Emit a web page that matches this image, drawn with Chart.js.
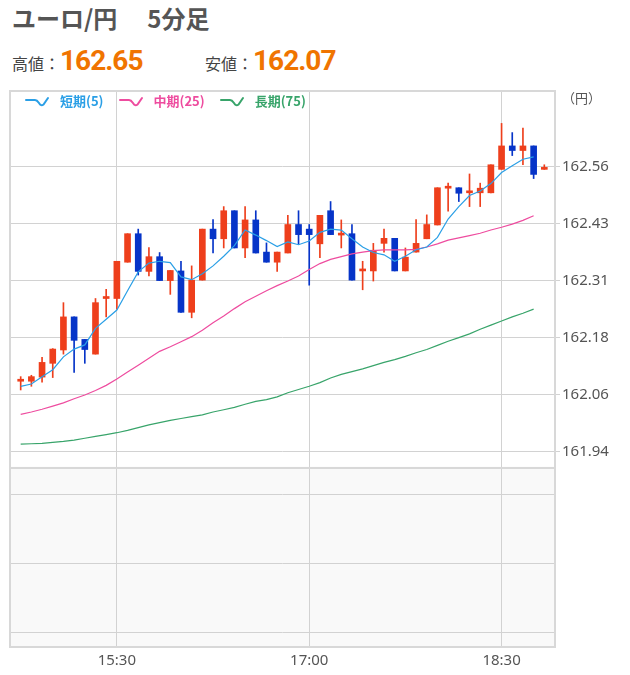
<!DOCTYPE html>
<html lang="ja">
<head>
<meta charset="utf-8">
<title>ユーロ/円 5分足</title>
<script src="https://cdn.jsdelivr.net/npm/chart.js@4.4.1/dist/chart.umd.min.js"></script>
<style>
    html, body { margin: 0; padding: 0; background: #fff; }
    body {
        width: 630px; height: 675px; position: relative; overflow: hidden;
        font-family: "Noto Sans CJK JP", "Noto Sans", sans-serif;
    }
    #title {
        position: absolute; left: 12px; top: 3px;
        font-size: 24px; font-weight: bold; color: #555;
        line-height: 30px; white-space: nowrap;
    }
    #title .sub { margin-left: 30px; }
    .price {
        position: absolute; top: 44px;
        display: flex; align-items: baseline; white-space: nowrap;
    }
    .price .lbl { font-size: 16px; color: #444; }
    .price .val {
        font-family: Roboto, "Noto Sans", sans-serif; font-weight: bold;
        font-size: 28px; letter-spacing: -1px; color: #f07400;
    }
    #chartBox { position: absolute; left: 0; top: 80px; width: 630px; height: 595px; }
    #legend {
        position: absolute; left: 25px; top: 91px;
        display: flex; align-items: center;
        font-size: 13px; font-weight: bold;
    }
    #legend .item { display: flex; align-items: center; margin-right: 15px; }
    #legend svg { margin-right: 8px; }
    #unit { position: absolute; left: 562px; top: 88px; font-size: 13px; color: #555; }
</style>
</head>
<body>
<div id="title">ユーロ/円<span class="sub">5分足</span></div>
<div class="price" style="left:12px"><span class="lbl">高値：</span><span class="val">162.65</span></div>
<div class="price" style="left:205px"><span class="lbl">安値：</span><span class="val">162.07</span></div>
<div id="chartBox"><canvas id="fxChart" width="630" height="595"></canvas></div>
<div id="legend"></div>
<div id="unit">（円）</div>

<script>
// 5分足の時刻
const times = [
    '14:45', '14:50', '14:55', '15:00', '15:05', '15:10', '15:15', '15:20', '15:25', '15:30',
    '15:35', '15:40', '15:45', '15:50', '15:55', '16:00', '16:05', '16:10', '16:15', '16:20',
    '16:25', '16:30', '16:35', '16:40', '16:45', '16:50', '16:55', '17:00', '17:05', '17:10',
    '17:15', '17:20', '17:25', '17:30', '17:35', '17:40', '17:45', '17:50', '17:55', '18:00',
    '18:05', '18:10', '18:15', '18:20', '18:25', '18:30', '18:35', '18:40', '18:45', '18:50'
];

// 四本値
const opens = [
    162.089, 162.089, 162.098, 162.128, 162.157, 162.229, 162.180, 162.148, 162.269, 162.269,
    162.348, 162.410, 162.328, 162.360, 162.308, 162.329, 162.239, 162.309, 162.420, 162.399,
    162.460, 162.379, 162.440, 162.370, 162.348, 162.368, 162.430, 162.420, 162.388, 162.460,
    162.407, 162.410, 162.329, 162.329, 162.389, 162.400, 162.329, 162.370, 162.399, 162.429,
    162.509, 162.510, 162.499, 162.499, 162.499, 162.550, 162.601, 162.591, 162.601, 162.550
];
const highs = [
    162.099, 162.102, 162.141, 162.160, 162.260, 162.229, 162.180, 162.269, 162.289, 162.350,
    162.410, 162.420, 162.380, 162.369, 162.330, 162.350, 162.340, 162.420, 162.441, 162.469,
    162.460, 162.469, 162.460, 162.390, 162.370, 162.450, 162.460, 162.430, 162.450, 162.480,
    162.440, 162.430, 162.350, 162.389, 162.420, 162.400, 162.379, 162.441, 162.451, 162.510,
    162.520, 162.510, 162.540, 162.520, 162.560, 162.650, 162.630, 162.640, 162.601, 162.560
];
const lows = [
    162.070, 162.078, 162.087, 162.097, 162.148, 162.108, 162.128, 162.148, 162.229, 162.246,
    162.348, 162.320, 162.318, 162.308, 162.278, 162.239, 162.227, 162.309, 162.368, 162.379,
    162.379, 162.358, 162.368, 162.348, 162.328, 162.368, 162.387, 162.298, 162.358, 162.408,
    162.379, 162.309, 162.288, 162.307, 162.370, 162.329, 162.329, 162.370, 162.399, 162.429,
    162.459, 162.480, 162.469, 162.469, 162.499, 162.550, 162.580, 162.560, 162.530, 162.550
];
const closes = [
    162.089, 162.099, 162.130, 162.159, 162.229, 162.178, 162.158, 162.260, 162.269, 162.350,
    162.410, 162.328, 162.360, 162.308, 162.330, 162.239, 162.309, 162.420, 162.399, 162.460,
    162.379, 162.440, 162.368, 162.348, 162.370, 162.430, 162.408, 162.408, 162.450, 162.408,
    162.411, 162.309, 162.329, 162.374, 162.400, 162.329, 162.359, 162.389, 162.430, 162.510,
    162.509, 162.498, 162.499, 162.509, 162.560, 162.601, 162.591, 162.601, 162.539, 162.550
];

// 移動平均線 (最後の足は未描画)
const ma5 = [
    162.078, 162.083, 162.099, 162.114, 162.142, 162.159, 162.168, 162.204, 162.224, 162.244,
    162.286, 162.327, 162.346, 162.350, 162.347, 162.316, 162.310, 162.323, 162.340, 162.361,
    162.384, 162.418, 162.407, 162.395, 162.382, 162.392, 162.386, 162.394, 162.413, 162.420,
    162.418, 162.399, 162.381, 162.369, 162.364, 162.350, 162.361, 162.375, 162.381, 162.402,
    162.442, 162.469, 162.493, 162.503, 162.519, 162.543, 162.558, 162.572, 162.577
];
const ma25 = [
    162.017, 162.022, 162.028, 162.035, 162.042, 162.051, 162.059, 162.069, 162.080, 162.094,
    162.109, 162.124, 162.139, 162.154, 162.164, 162.175, 162.186, 162.200, 162.216, 162.231,
    162.247, 162.262, 162.274, 162.286, 162.297, 162.307, 162.318, 162.332, 162.345, 162.354,
    162.360, 162.366, 162.370, 162.373, 162.375, 162.375, 162.375, 162.376, 162.381, 162.388,
    162.396, 162.401, 162.406, 162.411, 162.418, 162.424, 162.431, 162.439, 162.449
];
const ma75 = [
    161.952, 161.953, 161.954, 161.956, 161.958, 161.961, 161.965, 161.969, 161.973, 161.977,
    161.982, 161.988, 161.994, 161.999, 162.004, 162.008, 162.012, 162.016, 162.022, 162.027,
    162.032, 162.039, 162.045, 162.049, 162.055, 162.064, 162.071, 162.078, 162.086, 162.096,
    162.104, 162.110, 162.116, 162.123, 162.130, 162.136, 162.143, 162.151, 162.158, 162.167,
    162.176, 162.184, 162.192, 162.202, 162.211, 162.220, 162.229, 162.237, 162.246
];

// 目盛り
const xTickLabels = ['15:30', '17:00', '18:30'];
const yTickValues = [161.936, 162.060, 162.184, 162.308, 162.432, 162.556];

const upColor = '#ee3f1c';
const downColor = '#0634c8';

document.addEventListener('DOMContentLoaded', function() {
    initChart();
});

function initChart() {
    const candleColors = opens.map((o, i) => closes[i] >= o ? upColor : downColor);
    const wickData = times.map((t, i) => ({ x: i, y: [lows[i], highs[i]] }));
    const bodyData = times.map((t, i) => ({ x: i, y: [opens[i], closes[i]] }));
    const toPoints = arr => arr.map((v, i) => ({ x: i, y: v }));

    // 上段・下段パネルの背景と枠
    const panelFrames = {
        id: 'panelFrames',
        beforeDraw(chart) {
            const { ctx, chartArea } = chart;
            const low = chart.scales.yLow;
            ctx.save();
            ctx.fillStyle = '#f9f9f9';
            ctx.fillRect(chartArea.left, low.top, chartArea.right - chartArea.left, low.bottom - low.top);
            ctx.restore();
        },
        afterDraw(chart) {
            const { ctx, chartArea } = chart;
            ctx.save();
            ctx.strokeStyle = '#d8d8d8';
            ctx.lineWidth = 2;
            ['y', 'yLow'].forEach(id => {
                const s = chart.scales[id];
                ctx.strokeRect(chartArea.left, s.top, chartArea.right - chartArea.left, s.bottom - s.top);
            });
            ctx.restore();
        }
    };

    const lineStyle = {
        type: 'line',
        borderWidth: 1.2,
        pointRadius: 0,
        tension: 0,
        fill: false,
        yAxisID: 'y',
        order: 0
    };

    const ctx = document.getElementById('fxChart').getContext('2d');
    const chart = new Chart(ctx, {
        type: 'bar',
        data: {
            datasets: [
                Object.assign({ label: '短期(5)', data: toPoints(ma5), borderColor: '#2a9fe6' }, lineStyle),
                Object.assign({ label: '中期(25)', data: toPoints(ma25), borderColor: '#ee4c9f' }, lineStyle),
                Object.assign({ label: '長期(75)', data: toPoints(ma75), borderColor: '#38a46a' }, lineStyle),
                {
                    label: 'body',
                    data: bodyData,
                    backgroundColor: candleColors,
                    barThickness: 6,
                    minBarLength: 2,
                    grouped: false,
                    yAxisID: 'y',
                    order: 1
                },
                {
                    label: 'wick',
                    data: wickData,
                    backgroundColor: candleColors,
                    barThickness: 1,
                    grouped: false,
                    yAxisID: 'y',
                    order: 2
                }
            ]
        },
        options: {
            responsive: false,
            animation: false,
            devicePixelRatio: 1,
            layout: { padding: { left: 10, top: 8, right: 0, bottom: 0 } },
            plugins: {
                legend: { display: false },
                tooltip: { enabled: false }
            },
            scales: {
                x: {
                    type: 'linear',
                    min: -1,
                    max: 50,
                    offset: false,
                    grid: { color: '#d2d2d2', offset: false, drawTicks: false },
                    border: { display: false },
                    afterBuildTicks: function(scale) {
                        scale.ticks = xTickLabels.map(l => ({ value: times.indexOf(l) }));
                    },
                    ticks: {
                        color: '#555',
                        padding: 5,
                        maxRotation: 0,
                        font: { family: '"Noto Sans", sans-serif', size: 15 },
                        callback: value => times[value]
                    },
                    afterFit: function(scale) { scale.height = 28; }
                },
                y: {
                    type: 'linear',
                    position: 'right',
                    stack: 'panels',
                    stackWeight: 379,
                    min: 161.9003,
                    max: 162.7205,
                    grid: { color: '#d2d2d2', tickLength: 5 },
                    border: { display: false },
                    afterBuildTicks: function(scale) {
                        scale.ticks = yTickValues.map(v => ({ value: v }));
                    },
                    ticks: {
                        color: '#555',
                        padding: 2,
                        font: { family: '"Noto Sans", sans-serif', size: 15 },
                        callback: value => value.toFixed(2)
                    },
                    afterFit: function(scale) { scale.width = 75; }
                },
                yLow: {
                    type: 'linear',
                    position: 'right',
                    stack: 'panels',
                    stackWeight: 180,
                    min: 0,
                    max: 180,
                    grid: { color: '#d2d2d2', drawTicks: false },
                    border: { display: false },
                    afterBuildTicks: function(scale) {
                        scale.ticks = [15, 84, 153].map(v => ({ value: v }));
                    },
                    ticks: { display: false },
                    afterFit: function(scale) { scale.width = 75; }
                }
            }
        },
        plugins: [panelFrames]
    });

    buildLegend(chart);
}

function buildLegend(chart) {
    const legendBox = document.getElementById('legend');
    chart.data.datasets.filter(d => d.type === 'line').forEach(d => {
        const item = document.createElement('div');
        item.className = 'item';
        item.style.color = d.borderColor;
        item.innerHTML =
            '<svg width="27" height="14" viewBox="0 0 27 14">' +
            '<path d="M1 6 H10 Q12 6 14 9 Q16 12.5 18.5 10.5 L23 4" fill="none" stroke="' + d.borderColor + '" stroke-width="2" stroke-linecap="round"/>' +
            '</svg><span>' + d.label + '</span>';
        legendBox.appendChild(item);
    });
}
</script>
</body>
</html>
